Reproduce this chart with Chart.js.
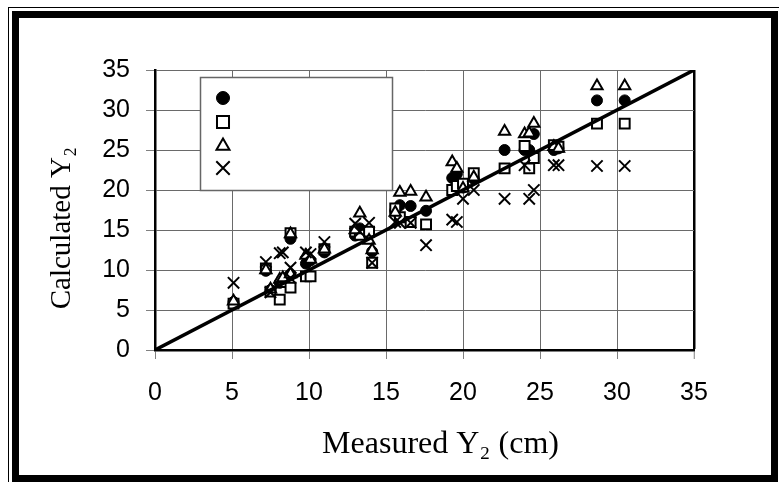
<!DOCTYPE html>
<html>
<head>
<meta charset="utf-8">
<script src="https://cdn.jsdelivr.net/npm/chart.js@4.4.0/dist/chart.umd.min.js"></script>
<style>
  html, body { margin: 0; padding: 0; background: #fff; }
  #wrap { width: 779px; height: 482px; }
</style>
</head>
<body>
<div id="wrap"><canvas id="chart" width="779" height="482"></canvas></div>
<script>
// measured Y2 (cm), shared by all four series
const measured = [5.1, 7.2, 7.5, 8.1, 8.3, 8.8, 8.8, 9.8, 10.1, 11.0, 13.0, 13.3, 13.9, 14.1, 15.6,
  15.9, 16.6, 17.6, 19.3, 19.6, 20.0, 20.7, 22.7, 24.0, 24.3, 24.6, 25.9, 26.2, 28.7, 30.5];

// calculated Y2, one array per marker
const calcCircle = [6.0, 9.9, 7.5, 8.4, 8.8, 13.9, 9.4, 10.8, 11.2, 12.2, 14.3, 15.2, 14.6, 12.3, 17.4,
  18.1, 18.0, 17.4, 21.5, 22.0, 20.3, 21.4, 25.0, 25.0, 25.0, 27.0, 25.0, 25.2, 31.2, 31.2];
const calcSquare = [5.8, 10.2, 7.3, 6.3, 8.5, 14.6, 7.8, 9.2, 9.2, 12.6, 14.8, 14.4, 14.8, 10.9, 17.7,
  16.6, 16.0, 15.7, 20.0, 20.5, 20.8, 22.1, 22.7, 25.5, 22.7, 24.0, 25.6, 25.4, 28.3, 28.3];
const calcTriangle = [6.1, 10.0, 7.6, 8.8, 9.0, 14.5, 9.5, 11.8, 11.3, 12.6, 15.0, 17.1, 13.7, 12.5, 17.2,
  19.7, 19.8, 19.1, 23.5, 22.7, 20.2, 21.6, 27.3, 27.0, 27.1, 28.3, 25.4, 25.2, 33.0, 33.0];
const calcCross = [8.4, 11.0, 7.2, 12.1, 12.2, 10.3, 9.0, 12.2, 12.0, 13.5, 15.8, 14.8, 15.9, 10.9, 16.0,
  15.9, 15.9, 13.1, 16.3, 16.0, 18.9, 20.0, 18.9, 23.1, 18.9, 20.0, 23.1, 23.1, 23.0, 23.0];

// 1:1 line ends and axis ticks
const oneToOne = [0, 35];
const axisMin = 0;
const axisMax = 35;
const axisStep = 5;

function pts(ys) {
  return measured.map((x, i) => ({ x: x, y: ys[i] }));
}

const markerStyles = [
  { label: "Series 1", data: calcCircle, pointStyle: "circle", radius: 5.5, fill: "#000", bw: 1, legR: 6.5 },
  { label: "Series 2", data: calcSquare, pointStyle: "rect", radius: 7, fill: "#fff", bw: 2, legR: 8.5 },
  { label: "Series 3", data: calcTriangle, pointStyle: "triangle", radius: 6.5, fill: "#fff", bw: 2, legR: 7.5 },
  { label: "Series 4", data: calcCross, pointStyle: "crossRot", radius: 8, fill: "#fff", bw: 2, legR: 9.5 },
];

const datasets = [
  {
    type: "line",
    label: "1:1",
    data: oneToOne.map((v) => ({ x: v, y: v })),
    borderColor: "#000",
    borderWidth: 3.5,
    pointRadius: 0,
    order: 0,
  },
];
markerStyles.forEach((m, k) => {
  datasets.push({
    type: "scatter",
    label: m.label,
    data: pts(m.data),
    pointStyle: m.pointStyle,
    pointRadius: m.radius,
    pointBackgroundColor: m.fill,
    pointBorderColor: "#000",
    pointBorderWidth: m.bw,
    order: 4 - k,
  });
});

// double frame round the picture
const framePlugin = {
  id: "frame",
  beforeDraw(chart) {
    const ctx = chart.ctx;
    ctx.save();
    ctx.fillStyle = "#fff";
    ctx.fillRect(0, 0, chart.width, chart.height);
    ctx.strokeStyle = "#000";
    ctx.lineWidth = 1;
    ctx.strokeRect(8.5, 7.5, 800, 500);
    ctx.lineWidth = 7;
    ctx.strokeRect(15.5, 14.5, 759, 464);
    ctx.restore();
  },
};

// boxed legend with markers only
const legendBox = {
  id: "legendBox",
  afterDraw(chart) {
    const ctx = chart.ctx;
    ctx.save();
    ctx.fillStyle = "#fff";
    ctx.fillRect(200.5, 77.5, 192, 113);
    ctx.strokeStyle = "#666";
    ctx.lineWidth = 1.5;
    ctx.strokeRect(200.5, 77.5, 192, 113);
    const rows = [98, 122, 146, 168];
    markerStyles.forEach((m, k) => {
      ctx.fillStyle = m.fill;
      ctx.strokeStyle = "#000";
      ctx.lineWidth = m.bw;
      Chart.helpers.drawPoint(ctx, { pointStyle: m.pointStyle, radius: m.legR, rotation: 0, borderWidth: m.bw }, 223, rows[k]);
    });
    ctx.restore();
  },
};

Chart.defaults.font.family = "'Liberation Sans', Arial, sans-serif";
Chart.defaults.color = "#000";

const sp = "\u00a0";

new Chart(document.getElementById("chart"), {
  data: { datasets: datasets },
  options: {
    responsive: false,
    animation: false,
    layout: { padding: { top: 70, right: 85, left: 0, bottom: 0 } },
    plugins: {
      legend: { display: false },
      tooltip: { enabled: false },
    },
    scales: {
      x: {
        type: "linear",
        min: axisMin,
        max: axisMax,
        ticks: { stepSize: axisStep, padding: 19, font: { size: 25 }, color: "#000" },
        grid: {
          color: (c) => (c.tick && c.tick.value === axisMax ? "#000" : "#6a6a6a"),
          lineWidth: (c) => (c.tick && c.tick.value === axisMax ? 2.5 : 1),
          tickColor: "#808080",
          tickWidth: 1,
          tickLength: 9,
        },
        border: { display: true, color: "#000", width: 2.5 },
        title: {
          display: true,
          text: sp.repeat(4) + "Measured Y₂ (cm)",
          font: { family: "'Liberation Serif', 'Times New Roman', serif", size: 32 },
          color: "#000",
          padding: { bottom: 18 },
        },
        afterFit(scale) {
          scale.height = 132;
        },
      },
      y: {
        type: "linear",
        min: axisMin,
        max: axisMax,
        ticks: { stepSize: axisStep, padding: 16, font: { size: 25 }, color: "#000" },
        grid: {
          color: "#6a6a6a",
          lineWidth: 1,
          tickColor: "#808080",
          tickWidth: 1,
          tickLength: 9,
        },
        border: { display: true, color: "#000", width: 2.5 },
        title: {
          display: true,
          text: "Calculated Y₂" + sp.repeat(5),
          font: { family: "'Liberation Serif', 'Times New Roman', serif", size: 29 },
          color: "#000",
          padding: { top: 45 },
        },
        afterFit(scale) {
          scale.width = 155;
        },
      },
    },
  },
  plugins: [framePlugin, legendBox],
});
</script>
</body>
</html>
